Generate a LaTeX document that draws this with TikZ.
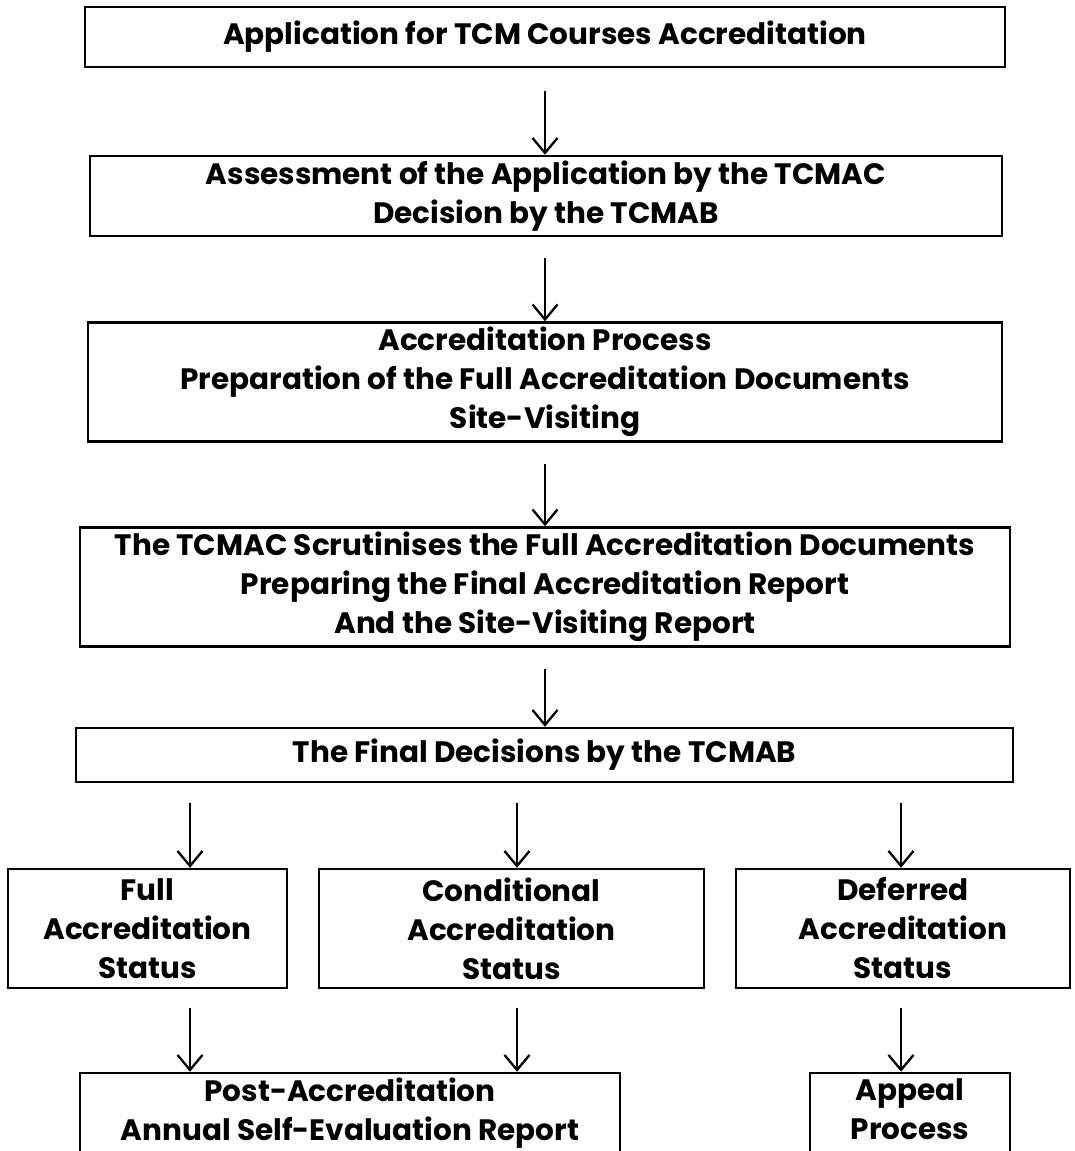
\documentclass[tikz,border=0pt]{standalone}
\usepackage{fontspec}
\setmainfont{Poppins}
\usetikzlibrary{arrows.meta}
\begin{document}
\begin{tikzpicture}[x=1pt,y=-1pt,
  box/.style={draw, line width=2.5pt, align=center, inner sep=0pt,
    font=\fontsize{29.5}{39}\selectfont\bfseries},
  arr/.style={line width=2.3pt, -{Straight Barb[length=15pt,width=25pt,line width=2.3pt]}}]
\useasboundingbox (0,0) rectangle (1074,1151);
\clip (0,0) rectangle (1074,1151);
\fill[white] (0,0) rectangle (1074,1151);
\node[box, minimum width=920pt, minimum height=60pt] (t1) at (545,37) {Application for TCM Courses Accreditation};
\node[box, minimum width=912pt, minimum height=80pt] (b2) at (546,196) {Assessment of the Application by the TCMAC\\Decision by the TCMAB};
\node[box, minimum width=914pt, minimum height=119pt] (b3) at (545,382) {Accreditation Process\\Preparation of the Full Accreditation Documents\\Site-Visiting};
\node[box, minimum width=930pt, minimum height=119pt] (b4) at (545,587) {The TCMAC Scrutinises the Full Accreditation Documents\\Preparing the Final Accreditation Report\\And the Site-Visiting Report};
\node[box, minimum width=937pt, minimum height=54pt] (b5) at (544.5,755) {The Final Decisions by the TCMAB};
\node[box, minimum width=279pt, minimum height=119pt] (fa) at (147.5,928.5) {Full\\Accreditation\\Status};
\node[box, minimum width=385pt, minimum height=119pt] (ca) at (511.5,928.5) {Conditional\\Accreditation\\Status};
\node[box, minimum width=334pt, minimum height=119pt] (da) at (903,928.5) {Deferred\\Accreditation\\Status};
\node[box, minimum width=540pt, minimum height=80pt] (pa) at (350,1113) {Post-Accreditation\\Annual Self-Evaluation Report};
\node[box, minimum width=200pt, minimum height=80pt, text depth=8pt] (ap) at (910,1113) {Appeal\\Process};
\draw[arr] ([yshift=-23pt]t1.south) -- (b2.north -| t1.south);
\draw[arr] ([yshift=-21pt]b2.south -| t1.south) -- (b3.north);
\draw[arr] ([yshift=-21pt]b3.south) -- (b4.north);
\draw[arr] ([yshift=-21pt]b4.south) -- (b5.north -| b4.north);
\coordinate (s1) at (190,803);
\coordinate (s2) at (517,803);
\coordinate (s3) at (901,803);
\draw[arr] (s1) -- (s1 |- fa.north);
\draw[arr] (s2) -- (s2 |- ca.north);
\draw[arr] (s3) -- (s3 |- da.north);
\coordinate (s4) at (190,1008);
\coordinate (s5) at (517,1008);
\coordinate (s6) at (901,1008);
\draw[arr] (s4) -- (s4 |- pa.north);
\draw[arr] (s5) -- (s5 |- pa.north);
\draw[arr] (s6) -- (s6 |- ap.north);
\end{tikzpicture}
\end{document}
